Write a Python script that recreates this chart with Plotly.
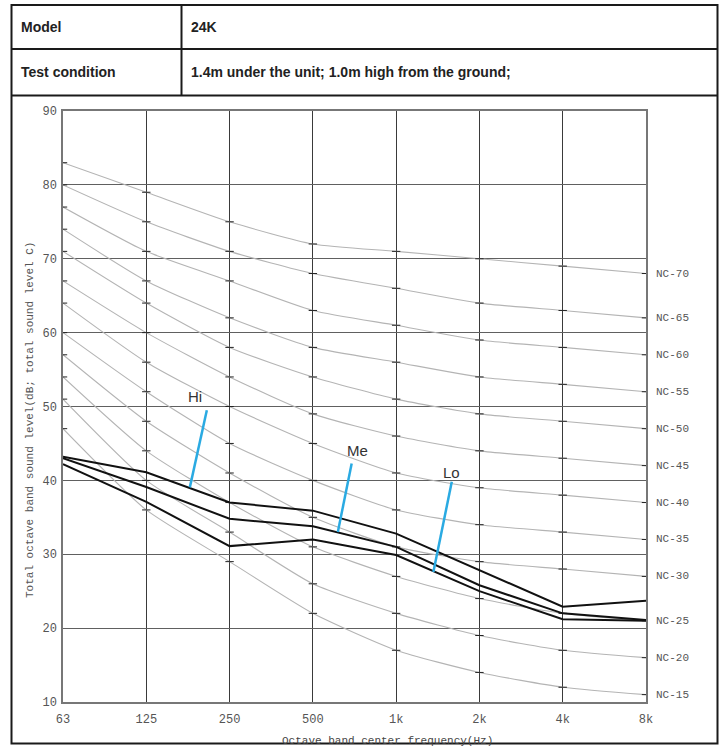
import plotly.graph_objects as go

# ---- data ----
freq_labels = ["63", "125", "250", "500", "1k", "2k", "4k", "8k"]
freq_idx = list(range(len(freq_labels)))

nc_names = ["NC-70", "NC-65", "NC-60", "NC-55", "NC-50", "NC-45",
            "NC-40", "NC-35", "NC-30", "NC-25", "NC-20", "NC-15"]
nc_70 = [83, 79, 75, 72, 71, 70, 69, 68]
nc_65 = [80, 75, 71, 68, 66, 64, 63, 62]
nc_60 = [77, 71, 67, 63, 61, 59, 58, 57]
nc_55 = [74, 67, 62, 58, 56, 54, 53, 52]
nc_50 = [71, 64, 58, 54, 51, 49, 48, 47]
nc_45 = [67, 60, 54, 49, 46, 44, 43, 42]
nc_40 = [64, 56, 50, 45, 41, 39, 38, 37]
nc_35 = [60, 52, 45, 40, 36, 34, 33, 32]
nc_30 = [57, 48, 41, 35, 31, 29, 28, 27]
nc_25 = [54, 44, 37, 31, 27, 24, 22, 21]
nc_20 = [51, 40, 33, 26, 22, 19, 17, 16]
nc_15 = [47, 36, 29, 22, 17, 14, 12, 11]
nc_curves = [nc_70, nc_65, nc_60, nc_55, nc_50, nc_45,
             nc_40, nc_35, nc_30, nc_25, nc_20, nc_15]

hi_vals = [43.2, 41.1, 37.0, 35.9, 32.8, 27.8, 22.9, 23.7]
me_vals = [43.0, 39.1, 34.8, 33.8, 31.0, 25.8, 22.0, 21.1]
lo_vals = [42.2, 37.1, 31.1, 32.0, 29.9, 25.0, 21.2, 21.0]

series_names = ["Hi", "Me", "Lo"]
# leader lines: (x_top, y_top), (x_tip, y_tip), label position  (axis units)
leaders = {
    "Hi": ((1.727, 49.5), (1.523, 39.05), (1.583, 51.4)),
    "Me": ((3.466, 42.3), (3.300, 33.0), (3.54, 44.0)),
    "Lo": ((4.668, 39.8), (4.447, 27.6), (4.66, 41.1)),
}

table_rows = [("Model", "24K"),
              ("Test condition", "1.4m under the unit; 1.0m high from the ground;")]

x_title = "Octave band center frequency(Hz)"
y_title = "Total octave band sound level(dB; total sound level C)"

MONO = "Liberation Mono, DejaVu Sans Mono, monospace"
SANS = "Liberation Sans, Arial, sans-serif"

fig = go.Figure()

for name, vals in zip(nc_names, nc_curves):
    fig.add_trace(go.Scatter(
        x=freq_idx, y=vals, mode="lines+markers", name=name,
        line=dict(color="#b4b4b4", width=1.1, shape="spline", smoothing=0.6),
        marker=dict(symbol="line-ew", size=6, line=dict(color="#222222", width=1)),
        showlegend=False, hoverinfo="skip"))

for name, vals in zip(series_names, [hi_vals, me_vals, lo_vals]):
    fig.add_trace(go.Scatter(
        x=freq_idx, y=vals, mode="lines", name=name,
        line=dict(color="#111111", width=2), showlegend=False))

# NC labels
for name, vals in zip(nc_names, nc_curves):
    fig.add_annotation(x=freq_idx[-1], y=vals[-1], xref="x", yref="y",
                       text=name, showarrow=False, xanchor="left", yanchor="middle",
                       xshift=8, font=dict(family=MONO, size=11, color="#555555"))

# leaders + labels
for name in series_names:
    (x0, y0), (x1, y1), (tx, ty) = leaders[name]
    fig.add_shape(type="line", xref="x", yref="y", x0=x0, y0=y0, x1=x1, y1=y1,
                  line=dict(color="#2aaae2", width=2.5))
    fig.add_annotation(x=tx, y=ty, xref="x", yref="y", text=name, showarrow=False,
                       xanchor="center", yanchor="middle",
                       font=dict(family=SANS, size=15, color="#333333"))

# table / frame (paper coords; plot area spans x 63..646, y 111..702 px)
def px(x):
    return (x - 63.0) / 583.0

def py(y):
    return (702.0 - y) / 591.0

border = dict(color="#1a1a1a", width=2)
L, R, T, B = px(11.5), px(717.5), py(5), py(743.5)
fig.add_shape(type="rect", xref="paper", yref="paper", x0=L, x1=R, y0=B, y1=T,
              line=border, layer="above")
fig.add_shape(type="line", xref="paper", yref="paper", x0=L, x1=R, y0=py(49), y1=py(49), line=border)
fig.add_shape(type="line", xref="paper", yref="paper", x0=L, x1=R, y0=py(95.5), y1=py(95.5), line=border)
fig.add_shape(type="line", xref="paper", yref="paper", x0=px(181.5), x1=px(181.5),
              y0=py(95.5), y1=T, line=border)

for (label, value), yc in zip(table_rows, [27, 72]):
    fig.add_annotation(x=px(19), y=py(yc), xref="paper", yref="paper",
                       text="<b>%s</b>" % label,
                       showarrow=False, xanchor="left", yanchor="middle",
                       font=dict(family=SANS, size=14, color="#222222"))
    fig.add_annotation(x=px(189), y=py(yc), xref="paper", yref="paper",
                       text="<b>%s</b>" % value,
                       showarrow=False, xanchor="left", yanchor="middle",
                       font=dict(family=SANS, size=14, color="#222222"))

fig.add_annotation(x=px(30), y=py(420), xref="paper", yref="paper", text=y_title,
                   showarrow=False, textangle=-90, xanchor="center", yanchor="middle",
                   font=dict(family=MONO, size=11, color="#555555"))
fig.add_annotation(x=px(387), y=py(741), xref="paper", yref="paper", text=x_title,
                   showarrow=False, xanchor="center", yanchor="middle",
                   font=dict(family=MONO, size=11, color="#444444"))

fig.update_xaxes(range=[0, 7], tickvals=freq_idx, ticktext=freq_labels,
                 showgrid=True, gridcolor="#3a3a3a", gridwidth=1.2,
                 showline=True, linecolor="#777777", linewidth=1.5, mirror=True,
                 zeroline=False, ticks="", ticklabelstandoff=5,
                 tickfont=dict(family=MONO, size=12, color="#555555"))
fig.update_yaxes(range=[10, 90], dtick=10,
                 showgrid=True, gridcolor="#606060", gridwidth=1.4,
                 showline=True, linecolor="#777777", linewidth=1.5, mirror=True,
                 zeroline=False, ticks="", ticklabelstandoff=2,
                 tickfont=dict(family=MONO, size=12, color="#555555"))

fig.update_layout(width=727, height=749,
                  margin=dict(l=63, r=81, t=111, b=47),
                  plot_bgcolor="white", paper_bgcolor="white",
                  showlegend=False)

fig.write_html("out.html", config={"displayModeBar": False},
               post_script="document.body.style.margin='0px';document.body.style.overflow='hidden';")
